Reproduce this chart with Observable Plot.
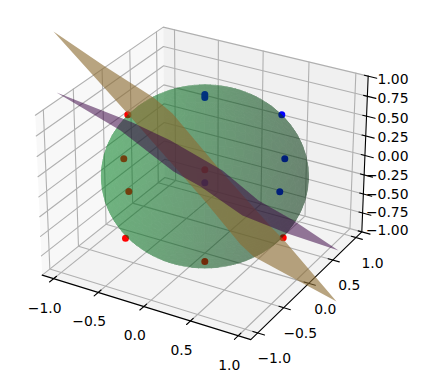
<!DOCTYPE html>
<html>
<head>
<meta charset="utf-8">
<script src="https://cdn.jsdelivr.net/npm/d3@7"></script>
<script src="https://cdn.jsdelivr.net/npm/@observablehq/plot@0.6"></script>
<style>
html,body{margin:0;padding:0;background:#fff}
svg{display:block}
</style>
</head>
<body>
<div id="chart"></div>
<script>
// tick values
const xTicks = [-1, -0.5, 0, 0.5, 1];
const yTicks = [-1, -0.5, 0, 0.5, 1];
const zTicks = [-1, -0.75, -0.5, -0.25, 0, 0.25, 0.5, 0.75, 1];
const xTickLabels = ["−1.0", "−0.5", "0.0", "0.5", "1.0"];
const yTickLabels = ["−1.0", "−0.5", "0.0", "0.5", "1.0"];
const zTickLabels = ["−1.00", "−0.75", "−0.50", "−0.25", "0.00", "0.25", "0.50", "0.75", "1.00"];

// scatter points read in view units (horizontal, vertical on the viewing plane)
const redH = [-38.35, -40.35, -37.85, -39.5, 0.15, 0.15, 39.35];
const redV = [29.1, 7.1, -9.25, -32.6, -44.25, 1.6, -32.4];
const blueH = [0.15, 0.15, 0.15, 38.65, 40.15, 37.65];
const blueV = [39.25, 37.75, -4.9, 29.1, 7.1, -9.4];

// outlines of the two planes in view units
const brownH = [-75.5, -50.5, -25.5, -16, 8, 34, 39.5, 66, 24.5, 18, -0.5, -38.5, -75.5];
const brownV = [70.75, 53.75, 37.75, 29.75, 1.25, -27.75, -33.25, -64.25, -41.75, -35.75, -13.25, 29.75, 70.75];
const purpleH = [-74, -36, -17, 9, 27, 44.5, 67, 41.5, 19, -2, -15.5, -42, -74];
const purpleV = [40.25, 25.25, 16.25, 1.25, -13.75, -23.75, -38.75, -30.25, -21.25, -6.75, 0.75, 21.25, 40.25];

// unit sphere mesh (degrees)
const sphereLat = d3.range(-90, 90, 6);
const sphereLon = d3.range(0, 360, 6);
const sphereRadius = 0.98;

// view settings
const elev = 28.2, azim = -60, dist = 10;
const limXY = 1.13, limZ = 1.0;
const rad = Math.PI / 180;
const aspect = [4, 4, 3];
const k = 1.8294640721620434 / Math.hypot(...aspect);
const box = aspect.map(a => a * k);
const R = box.map(b => b / 2);
const dirE = [Math.cos(elev*rad)*Math.cos(azim*rad), Math.cos(elev*rad)*Math.sin(azim*rad), Math.sin(elev*rad)];
const E = R.map((r, i) => r + dist * dirE[i]);
const w = dirE;
const cross = (a, b) => [a[1]*b[2]-a[2]*b[1], a[2]*b[0]-a[0]*b[2], a[0]*b[1]-a[1]*b[0]];
const dot = (a, b) => a[0]*b[0]+a[1]*b[1]+a[2]*b[2];
let u = cross([0,0,1], w); const un = Math.hypot(...u); u = u.map(c => c/un);
const v = cross(w, u);
const offH = 0.2, offV = -1.4;
const viewScale = 1044;
function project(x, y, z) {
  const p = [(x+limXY)/(2*limXY)*box[0], (y+limXY)/(2*limXY)*box[1], (z+limZ)/(2*limZ)*box[2]];
  const d = p.map((c, i) => c - E[i]);
  const zc = -dot(w, d);
  return {h: viewScale*dot(u, d)/zc + offH, v: viewScale*dot(v, d)/zc + offV};
}
const W = limXY, Zl = limZ;

// panes
const poly = (pts, id, c) => pts.map(q => { const a = project(...q); return {...a, id, c}; });
const panes = [
  ...poly([[-W,-W,-Zl],[-W,W,-Zl],[-W,W,Zl],[-W,-W,Zl],[-W,-W,-Zl]], "x", "#f8f8f8"),
  ...poly([[-W,W,-Zl],[W,W,-Zl],[W,W,Zl],[-W,W,Zl],[-W,W,-Zl]], "y", "#f0f0f0"),
  ...poly([[-W,-W,-Zl],[W,-W,-Zl],[W,W,-Zl],[-W,W,-Zl],[-W,-W,-Zl]], "z", "#f3f3f3")
];

// grid
const grid = [];
xTicks.forEach((t, i) => grid.push(...poly([[t,-W,-Zl],[t,W,-Zl],[t,W,Zl]], "gx"+i)));
yTicks.forEach((t, i) => grid.push(...poly([[W,t,-Zl],[-W,t,-Zl],[-W,t,Zl]], "gy"+i)));
zTicks.forEach((t, i) => grid.push(...poly([[-W,-W,t],[-W,W,t],[W,W,t]], "gz"+i)));

// axes
const axes = [
  ...poly([[-W,-W,-Zl],[W,-W,-Zl],[W,W,-Zl],[W,W,Zl]], "a")
];
const ticks = [];
xTicks.forEach((t, i) => ticks.push(...poly([[t,-W+0.05,-Zl],[t,-W-0.07,-Zl]], "tx"+i)));
yTicks.forEach((t, i) => ticks.push(...poly([[W-0.05,t,-Zl],[W+0.07,t,-Zl]], "ty"+i)));
zTicks.forEach((t, i) => ticks.push(...poly([[W-0.04,W,t],[W+0.09,W,t]], "tz"+i)));

const xLab = xTicks.map((t, i) => ({...project(t,-W,-Zl), s: xTickLabels[i]}));
const yLab = yTicks.map((t, i) => ({...project(W,t,-Zl), s: yTickLabels[i]}));
const zLabelH = 102;
const zLab = zTicks.map((t, i) => ({h: zLabelH, v: project(W,W,t*0.975).v, s: zTickLabels[i]}));

// sphere facets with matplotlib-like shading
const light = [-0.667, -0.667, 0.333];
const base = [0, 130, 32];
const front = [], back = [];
const sph = (la, lo) => [sphereRadius*Math.cos(la*rad)*Math.cos(lo*rad), sphereRadius*Math.cos(la*rad)*Math.sin(lo*rad), sphereRadius*Math.sin(la*rad)];
sphereLat.forEach((la, i) => sphereLon.forEach((lo, j) => {
  const n = sph(la+3, lo+3);
  const s = 0.3 + 0.7*(dot(n, light)+1)/2;
  const c = `rgb(${base.map(b => Math.round(b*s)).join(",")})`;
  const id = i*1000+j;
  const corners = [[la,lo],[la+6,lo],[la+6,lo+6],[la,lo+6],[la,lo]].map(([a,b]) => sph(a,b));
  const pts = corners.map(q => ({...project(...q), id, c}));
  const ctr = [(n[0]+limXY)/(2*limXY)*box[0],(n[1]+limXY)/(2*limXY)*box[1],(n[2]+limZ)/(2*limZ)*box[2]];
  const toEye = E.map((e, m) => e-ctr[m]);
  const nn = [n[0]/box[0], n[1]/box[1], n[2]/box[2]];
  (dot(nn, toEye) > 0 ? front : back).push(...pts);
}));

const toPts = (hs, vs) => hs.map((h, i) => ({h, v: vs[i]}));
const hx = d => d.h, vy = d => d.v;

const plot = Plot.plot({
  width: 429, height: 383,
  marginLeft: 0, marginRight: 0, marginTop: 0, marginBottom: 0,
  x: {domain: [-102, 112.5], range: [0, 429], axis: null},
  y: {domain: [86.25, -105.25], range: [0, 383], axis: null},
  color: {type: "identity"},
  style: {background: "#fff"},
  marks: [
    Plot.line(panes, {x: hx, y: vy, z: "id", fill: "c", stroke: "none"}),
    Plot.line(grid, {x: hx, y: vy, z: "id", stroke: "#b0b0b0", strokeWidth: 1.1}),
    Plot.line(axes, {x: hx, y: vy, z: "id", stroke: "#000", strokeWidth: 1.1}),
    Plot.line(ticks, {x: hx, y: vy, z: "id", stroke: "#000", strokeWidth: 1.1}),
    Plot.text(xLab, {x: hx, y: vy, text: "s", dx: -9, dy: 29.5, fontFamily: "DejaVu Sans", fontSize: 13.9, fill: "#000"}),
    Plot.text(yLab, {x: hx, y: vy, text: "s", dx: 16.5, dy: 26, fontFamily: "DejaVu Sans", fontSize: 13.9, fill: "#000"}),
    Plot.text(zLab, {x: hx, y: vy, text: "s", dy: 1, textAnchor: "end", fontFamily: "DejaVu Sans", fontSize: 13.9, fill: "#000"}),
    Plot.dot(toPts(redH, redV), {x: hx, y: vy, r: 3.5, fill: "#ff0000", stroke: "none"}),
    Plot.dot(toPts(blueH, blueV), {x: hx, y: vy, r: 3.5, fill: "#0000ff", stroke: "none"}),
    Plot.line(back, {x: hx, y: vy, z: "id", fill: "c", stroke: "c", strokeWidth: 0.7, ariaDescription: "sphere-back"}),
    Plot.line(front, {x: hx, y: vy, z: "id", fill: "c", stroke: "c", strokeWidth: 0.7, ariaDescription: "sphere-front"}),
    Plot.line(toPts(brownH, brownV), {x: hx, y: vy, fill: "rgb(140,108,50)", fillOpacity: 0.62, stroke: "none"}),
    Plot.line(toPts(purpleH, purpleV), {x: hx, y: vy, fill: "rgb(55,0,65)", fillOpacity: 0.52, stroke: "none"})
  ]
});
plot.querySelectorAll('[aria-description^="sphere"]').forEach(g => g.setAttribute("opacity", "0.33"));
document.getElementById("chart").appendChild(plot);
</script>
</body>
</html>
